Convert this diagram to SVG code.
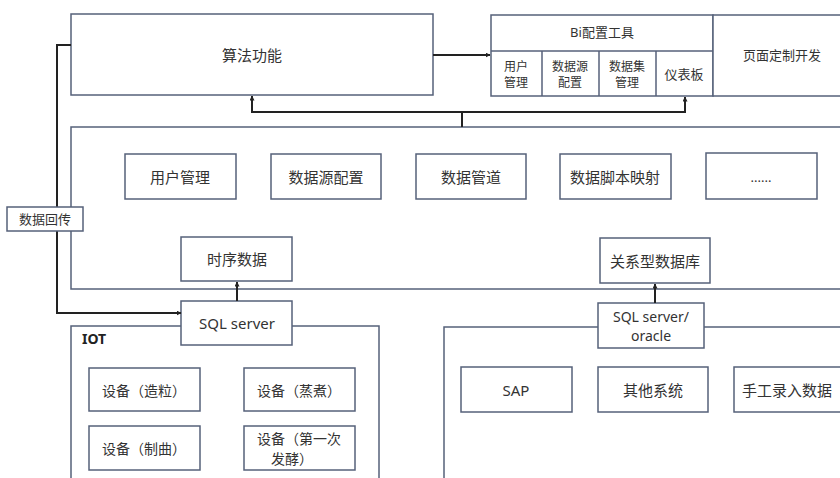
<svg xmlns="http://www.w3.org/2000/svg" width="840" height="478" viewBox="0 0 840 478">
<defs>
<marker id="ah" viewBox="0 0 10 10" refX="9" refY="5" markerWidth="5" markerHeight="5" orient="auto" markerUnits="userSpaceOnUse">
<path d="M0,0 L10,5 L0,10 z" fill="#222"/>
</marker>
<style>
.b{fill:#fff;stroke:#56617a;stroke-width:1.5}
.t{font-family:"Noto Sans","Noto Sans CJK SC",sans-serif;fill:#333;text-anchor:middle;dominant-baseline:central}
.s{font-size:12px}
.c{fill:none;stroke:#222;stroke-width:2}
</style>
</defs>
<rect width="840" height="478" fill="#fff"/>
<g id="algo"><rect class="b" x="71" y="14" width="362" height="81"/><text class="t" x="252" y="55" font-size="15">算法功能</text></g>
<g id="bi">
<rect class="b" x="491" y="15" width="222" height="81"/>
<line class="b" x1="491" y1="51" x2="713" y2="51"/>
<line class="b" x1="542" y1="51" x2="542" y2="96"/>
<line class="b" x1="599" y1="51" x2="599" y2="96"/>
<line class="b" x1="656" y1="51" x2="656" y2="96"/>
<text class="t" x="602" y="32" font-size="13">Bi配置工具</text>
<text class="t s" x="516" y="66">用户</text><text class="t s" x="516" y="82">管理</text>
<text class="t s" x="570" y="66">数据源</text><text class="t s" x="570" y="82">配置</text>
<text class="t s" x="627" y="66">数据集</text><text class="t s" x="627" y="82">管理</text>
<text class="t" x="684" y="74" font-size="13">仪表板</text>
</g>
<g id="page"><rect class="b" x="713" y="15" width="140" height="81"/><text class="t" x="782" y="55" font-size="13">页面定制开发</text></g>
<g id="platform"><rect class="b" x="71" y="127" width="790" height="162"/></g>
<g id="n1"><rect class="b" x="125" y="154" width="111" height="45"/><text class="t" x="180" y="177" font-size="15">用户管理</text></g>
<g id="n2"><rect class="b" x="271" y="154" width="110" height="45"/><text class="t" x="326" y="177" font-size="15">数据源配置</text></g>
<g id="n3"><rect class="b" x="416" y="154" width="110" height="45"/><text class="t" x="471" y="177" font-size="15">数据管道</text></g>
<g id="n4"><rect class="b" x="560" y="154" width="111" height="45"/><text class="t" x="615" y="177" font-size="15">数据脚本映射</text></g>
<g id="n5"><rect class="b" x="706" y="153" width="111" height="46"/><text class="t" x="761" y="177" font-size="13">......</text></g>
<g id="ts"><rect class="b" x="181" y="237" width="111" height="44"/><text class="t" x="237" y="259" font-size="15">时序数据</text></g>
<g id="rdb"><rect class="b" x="600" y="238" width="110" height="45"/><text class="t" x="655" y="261" font-size="15">关系型数据库</text></g>
<g id="iot"><rect class="b" x="71" y="326" width="308" height="170"/><text x="82" y="338" font-family="Noto Sans, sans-serif" font-size="14" font-weight="bold" fill="#222" dominant-baseline="central">IOT</text></g>
<g id="ext"><rect class="b" x="444" y="327" width="420" height="170"/></g>
<g id="sql1"><rect class="b" x="181" y="301" width="111" height="44"/><text class="t" x="237" y="323" font-size="15">SQL server</text></g>
<g id="sql2"><rect class="b" x="598" y="303" width="106" height="45"/><text class="t" x="651" y="316" font-size="14">SQL server/</text><text class="t" x="651" y="335" font-size="14">oracle</text></g>
<g id="d1"><rect class="b" x="89" y="368" width="111" height="43"/><text class="t" x="144" y="390" font-size="14">设备（造粒）</text></g>
<g id="d2"><rect class="b" x="244" y="368" width="111" height="43"/><text class="t" x="299" y="390" font-size="14">设备（蒸煮）</text></g>
<g id="d3"><rect class="b" x="89" y="426" width="111" height="44"/><text class="t" x="144" y="448" font-size="14">设备（制曲）</text></g>
<g id="d4"><rect class="b" x="244" y="426" width="111" height="44"/><text class="t" x="299" y="438" font-size="14">设备（第一次</text><text class="t" x="292" y="458" font-size="14">发酵）</text></g>
<g id="sap"><rect class="b" x="461" y="367" width="111" height="45"/><text class="t" x="516" y="390" font-size="15">SAP</text></g>
<g id="other"><rect class="b" x="598" y="367" width="110" height="45"/><text class="t" x="653" y="390" font-size="15">其他系统</text></g>
<g id="manual"><rect class="b" x="734" y="367" width="120" height="45"/><text class="t" x="787" y="390" font-size="15">手工录入数据</text></g>
<g id="connectors">
<polyline class="c" points="71,45 57,45 57,313 181,313" marker-end="url(#ah)"/>
<line class="c" x1="433" y1="55" x2="490" y2="55" marker-end="url(#ah)"/>
<line class="c" x1="462" y1="127" x2="462" y2="112"/>
<polyline class="c" points="252,112 685,112"/>
<line class="c" x1="252" y1="113" x2="252" y2="96" marker-end="url(#ah)"/>
<line class="c" x1="685" y1="113" x2="685" y2="97" marker-end="url(#ah)"/>
<line class="c" x1="237" y1="301" x2="237" y2="282" marker-end="url(#ah)"/>
<line class="c" x1="655" y1="303" x2="655" y2="284" marker-end="url(#ah)"/>
</g>
<g id="label"><rect class="b" x="7" y="207" width="76" height="24"/><text class="t" x="45" y="219" font-size="13">数据回传</text></g>
</svg>
